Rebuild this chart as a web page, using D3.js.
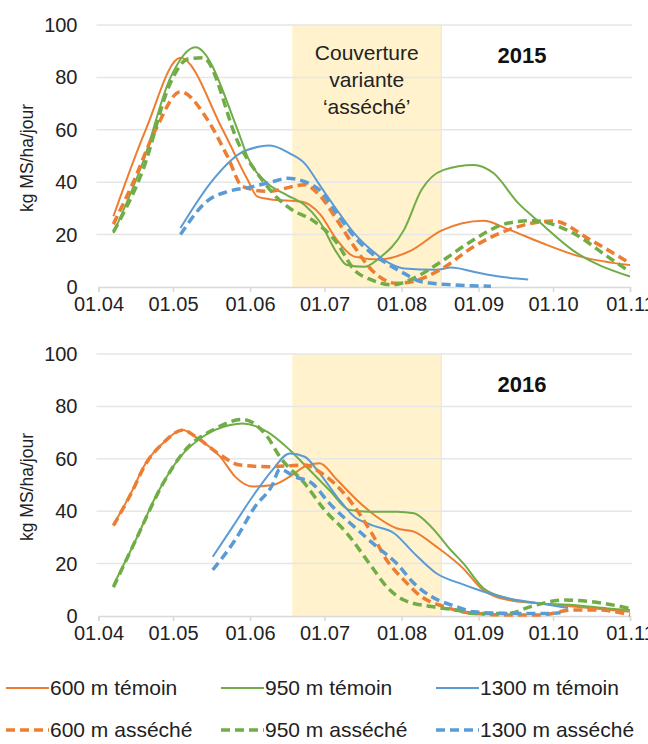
<!DOCTYPE html>
<html>
<head>
<meta charset="UTF-8">
<title>Croissance de l'herbe 2015-2016</title>
<script src="https://cdn.jsdelivr.net/npm/d3@7"></script>
<style>
* { margin: 0; padding: 0; }
body { background: #fff; }
svg { display: block; font-family: "Liberation Sans", Arial, sans-serif; }
</style>
</head>
<body>
<svg id="chart" width="648" height="744"></svg>
<script>
// séries : [date jj.mm, kg MS/ha/jour]
const seriesNames = ["600 m témoin", "950 m témoin", "1300 m témoin",
                     "600 m asséché", "950 m asséché", "1300 m asséché"];
const years = [2015, 2016];
const yTicks = [0, 20, 40, 60, 80, 100];
const shadeDates = ["18.06", "17.08"];
const shadeLabel = ["Couverture", "variante", "\u2018asséché\u2019"];

const t600_2015 = [["07.04",27],["20.04",60],["04.05",87.5],["21.05",60],["31.05",41],["04.06",34.5],
  ["09.06",33.5],["22.06",32.5],["29.06",28],["06.07",18],["13.07",11.6],["23.07",10.5],["05.08",14],
  ["17.08",21.5],["03.09",25.3],["13.09",22],["26.09",17],["12.10",11.6],["01.11",8.4]];
const t950_2015 = [["07.04",20.6],["19.04",48],["30.04",80],["10.05",91.5],["27.05",60],["31.05",49.7],
  ["08.06",39.6],["16.06",35],["23.06",31.3],["29.06",25],["06.07",13],["10.07",8.4],["17.07",7.7],
  ["23.07",11],["02.08",21.8],["09.08",37],["18.08",44.7],["30.08",46.6],["07.09",43.5],["17.09",32],
  ["26.09",24.4],["09.10",14],["01.11",4]];
const t1300_2015 = [["04.05",22.5],["17.05",40.8],["28.05",51],["05.06",53.6],["09.06",54],["17.06",51],
  ["23.06",47.2],["29.06",39],["06.07",29.4],["13.07",20.5],["20.07",14],["26.07",9.7],["02.08",7.1],
  ["15.08",6.6],["21.08",7.4],["30.08",5.8],["10.09",3.9],["21.09",2.9]];
const a600_2015 = [["07.04",24],["15.04",40],["24.04",60],["04.05",74.5],["15.05",63.7],["23.05",49.7],
  ["29.05",38.3],["08.06",36.5],["23.06",39],["29.06",35],["06.07",25.6],["13.07",15.4],["20.07",6.5],
  ["30.07",1.4],["05.08",2],["17.08",6.8],["30.08",15.4],["13.09",21.8],["01.10",25.2],["16.10",18],
  ["01.11",9]];
const a950_2015 = [["07.04",21],["19.04",45],["30.04",78],["07.05",87],["13.05",87.5],["28.05",53.6],
  ["05.06",42],["12.06",34],["18.06",29.4],["26.06",25.6],["06.07",16.8],["13.07",6.5],["20.07",2.7],
  ["28.07",0.8],["06.08",3.4],["17.08",9.7],["28.08",16.8],["13.09",24.4],["23.09",25.3],["09.10",20.6],
  ["23.10",11.6],["01.11",5.8]];
const a1300_2015 = [["04.05",20],["15.05",33],["23.05",36.4],["02.06",38.3],["10.06",40.2],["16.06",41.5],
  ["23.06",40.2],["29.06",37],["06.07",28],["13.07",19.2],["20.07",12.8],["26.07",9],["02.08",5.2],
  ["09.08",2],["22.08",0.8],["06.09",0.3]];

const t600_2016 = [["07.04",34.7],["14.04",46.8],["20.04",58.3],["27.04",66],["05.05",71],["10.05",68.4],
  ["20.05",60.8],["26.05",53.2],["02.06",49.4],["10.06",50],["17.06",53.2],["23.06",57],["29.06",58.3],
  ["06.07",52],["14.07",44.3],["22.07",37.9],["30.07",33.5],["06.08",32.2],["15.08",26.5],["26.08",18],
  ["02.09",10.6],["13.09",6.1],["26.09",4.8],["09.10",3.6],["01.11",1.6]];
const t950_2016 = [["07.04",11.8],["16.04",29],["24.04",45.5],["04.05",60.8],["13.05",68.4],["24.05",72.9],
  ["29.05",73.5],["08.06",70.3],["17.06",63.4],["25.06",55.7],["03.07",48],["11.07",40.5],["19.07",39.8],
  ["30.07",39.8],["06.08",39.2],["13.08",34],["21.08",25],["26.08",20],["03.09",10.6],["13.09",6.7],
  ["26.09",4.8],["09.10",4.2],["23.10",2.9],["01.11",2.3]];
const t1300_2016 = [["17.05",22.6],["25.05",34],["02.06",45.5],["10.06",55.7],["17.06",62],["23.06",60.8],
  ["29.06",54.5],["06.07",45.5],["13.07",37.9],["20.07",34.7],["29.07",31.6],["06.08",24],["15.08",16.3],
  ["26.08",12],["30.08",10.6],["13.09",6.7],["26.09",4.8],["07.10",3]];
const a600_2016 = [["07.04",34.5],["14.04",46.5],["20.04",58],["27.04",66],["05.05",71],["10.05",68.5],
  ["20.05",61.5],["28.05",57.6],["08.06",57],["23.06",57.6],["29.06",55],["10.07",45.5],["20.07",31.6],
  ["26.07",21.4],["02.08",13.7],["09.08",7.4],["18.08",3.6],["30.08",1],["13.09",0.4],["26.09",0.4],
  ["09.10",2.3],["19.10",2.3],["01.11",0.4]];
const a950_2016 = [["07.04",11],["16.04",29],["27.04",50.6],["06.05",63.4],["17.05",71],["29.05",75],
  ["08.06",68.4],["13.06",60.8],["23.06",50.6],["01.07",40.5],["10.07",31.6],["20.07",18.8],["26.07",11.2],
  ["02.08",6.1],["13.08",3.6],["23.08",2.3],["30.08",1],["13.09",1],["22.09",3.6],["05.10",6.1],
  ["16.10",5.5],["01.11",2.9]];
const a1300_2016 = [["17.05",17.6],["26.05",29],["03.06",41.7],["10.06",50],["13.06",56],["19.06",53.2],
  ["26.06",50.6],["03.07",43],["13.07",34],["22.07",26.5],["30.07",20.1],["06.08",12.5],["13.08",7.4],
  ["23.08",3.6],["30.08",1.6],["13.09",1],["30.09",1],["04.10",1.2]];

const data2015 = [t600_2015, t950_2015, t1300_2015, a600_2015, a950_2015, a1300_2015];
const data2016 = [t600_2016, t950_2016, t1300_2016, a600_2016, a950_2016, a1300_2016];

const colors = ["#ED7D31", "#70AD47", "#5B9BD5", "#ED7D31", "#70AD47", "#5B9BD5"];
const dashed = [false, false, false, true, true, true];

const svg = d3.select("#chart");
const left = 98.5, right = 630;
const panels = [
  { year: years[0], top: 25, bottom: 287, data: data2015 },
  { year: years[1], top: 354, bottom: 616, data: data2016 }
];

panels.forEach(p => {
  const parse = s => d3.timeParse("%d.%m.%Y")(s + "." + p.year);
  const x = d3.scaleTime()
    .domain([new Date(p.year, 3, 1), new Date(p.year, 10, 1)])
    .range([left, right]);
  const y = d3.scaleLinear().domain([0, 100]).range([p.bottom, p.top]);
  const g = svg.append("g");

  // zone ombrée
  g.append("rect")
    .attr("x", x(parse(shadeDates[0])))
    .attr("y", y(100))
    .attr("width", x(parse(shadeDates[1])) - x(parse(shadeDates[0])))
    .attr("height", y(0) - y(100))
    .attr("fill", "#FFF2CC");
  g.append("line")
    .attr("x1", x(parse(shadeDates[1]))).attr("x2", x(parse(shadeDates[1])))
    .attr("y1", y(100)).attr("y2", y(0))
    .attr("stroke", "#e4e4e4");

  // grille
  g.selectAll(".grid").data(yTicks.filter(d => d > 0)).enter()
    .append("line")
    .attr("x1", left - 2).attr("x2", right + 2)
    .attr("y1", d => y(d)).attr("y2", d => y(d))
    .attr("stroke", "#e6e6e6").attr("stroke-width", 1.5);

  // axe Y
  const ya = g.append("g").attr("transform", `translate(${left},0)`)
    .call(d3.axisLeft(y).tickValues(yTicks).tickSize(0).tickPadding(21));
  ya.select(".domain").remove();
  ya.selectAll("text").attr("font-size", 20).attr("fill", "#222");

  // axe X
  const xa = g.append("g").attr("transform", `translate(0,${p.bottom})`)
    .call(d3.axisBottom(x).ticks(d3.timeMonth.every(1)).tickFormat(d3.timeFormat("%d.%m"))
      .tickSize(5).tickPadding(5));
  xa.select(".domain").attr("stroke", "#d9d9d9").attr("stroke-width", 1.5);
  xa.selectAll(".tick line").attr("stroke", "#d9d9d9").attr("stroke-width", 1.5);
  xa.selectAll("text").attr("font-size", 20).attr("fill", "#222");

  // titre de l'axe Y
  g.append("text")
    .attr("transform", `translate(33,${(p.top + p.bottom) / 2 + 2}) rotate(-90)`)
    .attr("text-anchor", "middle")
    .attr("font-size", 17.5).attr("fill", "#222")
    .text("kg MS/ha/jour");

  // courbes
  const line = d3.line()
    .x(d => x(parse(d[0])))
    .y(d => y(d[1]))
    .curve(d3.curveMonotoneX);
  p.data.forEach((s, i) => {
    g.append("path")
      .datum(s)
      .attr("d", line)
      .attr("fill", "none")
      .attr("stroke", colors[i])
      .attr("stroke-width", dashed[i] ? 3.5 : 2)
      .attr("stroke-dasharray", dashed[i] ? "9,5" : null);
  });

  // année
  g.append("text")
    .attr("x", 522).attr("y", p.top + 38)
    .attr("text-anchor", "middle")
    .attr("font-size", 22).attr("font-weight", "bold").attr("fill", "#111")
    .text(p.year);

  if (p.year === 2015) {
    const cx = (x(parse(shadeDates[0])) + x(parse(shadeDates[1]))) / 2;
    g.append("g").selectAll("text").data(shadeLabel).enter()
      .append("text")
      .attr("x", cx).attr("y", (d, i) => 60 + i * 27)
      .attr("text-anchor", "middle")
      .attr("font-size", 21).attr("fill", "#222")
      .text(d => d);
  }
});

// légende
const legX = [6, 221, 436];
const legY = [688, 730];
const leg = svg.append("g");
seriesNames.forEach((name, i) => {
  const lx = legX[i % 3], ly = legY[Math.floor(i / 3)];
  leg.append("line")
    .attr("x1", lx).attr("x2", lx + 43)
    .attr("y1", ly).attr("y2", ly)
    .attr("stroke", colors[i])
    .attr("stroke-width", dashed[i] ? 3.5 : 2)
    .attr("stroke-dasharray", dashed[i] ? "9,5" : null);
  leg.append("text")
    .attr("x", lx + 44).attr("y", ly + 7)
    .attr("font-size", 21).attr("fill", "#222")
    .text(name);
});
</script>
</body>
</html>
